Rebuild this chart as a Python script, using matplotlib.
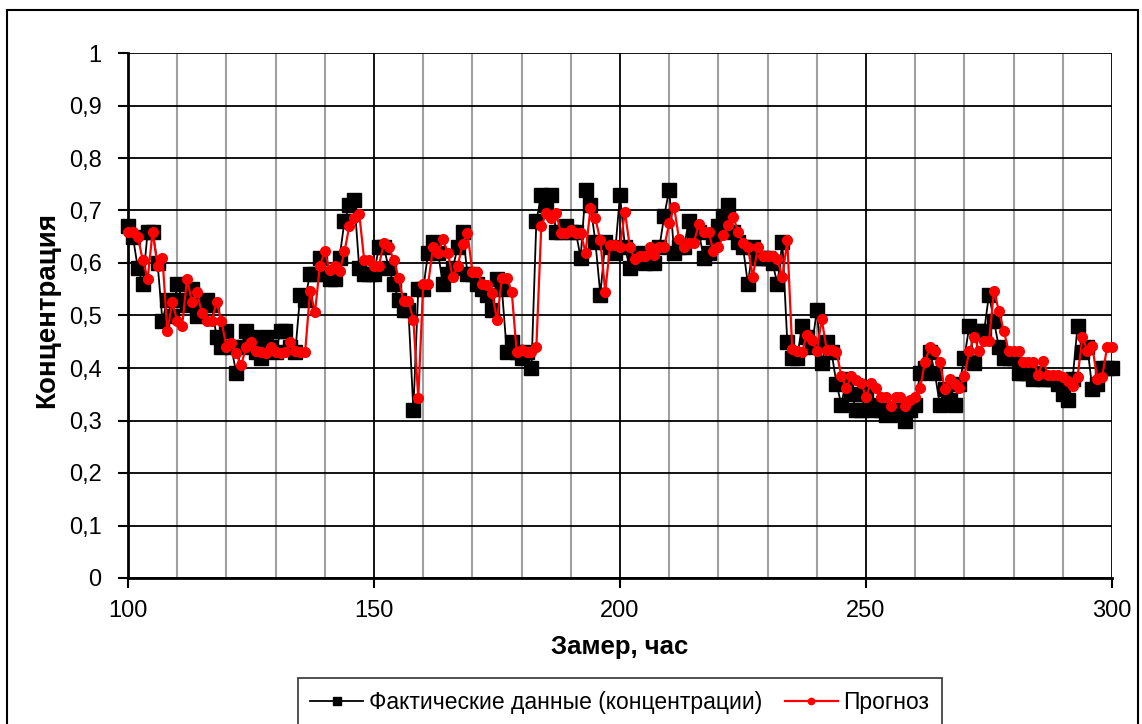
import numpy as np
import matplotlib
matplotlib.use("Agg")
import matplotlib.pyplot as plt
from matplotlib.ticker import MultipleLocator, FuncFormatter
from matplotlib.patches import Rectangle

plt.rcParams['font.family'] = ['Liberation Sans', 'DejaVu Sans']

# hours of measurement (замер, час)
hours = np.arange(100, 301)

# actual concentration, 10 values per row starting at hour 100
actual = [
    .67, .65, .59, .56, .66, .66, .60, .49, .53, .50,
    .56, .53, .52, .55, .50, .52, .53, .52, .46, .44,
    .47, .44, .39, .44, .47, .46, .43, .42, .46, .44,
    .43, .47, .47, .44, .43, .54, .53, .58, .58, .61,
    .58, .57, .57, .61, .68, .71, .72, .59, .58, .58,
    .58, .63, .63, .59, .56, .53, .51, .51, .32, .55,
    .55, .62, .64, .62, .56, .58, .59, .63, .66, .58,
    .58, .56, .55, .54, .51, .57, .55, .43, .45, .43,
    .42, .43, .40, .68, .73, .71, .73, .66, .66, .67,
    .66, .66, .61, .74, .71, .64, .54, .64, .63, .62,
    .73, .63, .59, .61, .62, .60, .61, .60, .63, .69,
    .74, .62, .63, .63, .68, .66, .66, .61, .62, .65,
    .67, .69, .71, .66, .64, .63, .56, .63, .61, .61,
    .61, .60, .56, .64, .45, .42, .42, .48, .46, .44,
    .51, .41, .45, .43, .37, .33, .38, .35, .32, .32,
    .35, .32, .33, .32, .31, .32, .32, .31, .30, .32,
    .33, .39, .40, .43, .39, .33, .36, .34, .33, .37,
    .42, .48, .41, .47, .47, .54, .49, .44, .42, .42,
    .42, .39, .39, .39, .38, .39, .38, .38, .38, .37,
    .35, .34, .38, .48, .43, .44, .36, .37, .40, .40,
    .40,
]

# forecast (прогноз)
forecast = [
    .66, .66, .65, .605, .57, .66, .595, .61, .47, .525,
    .49, .48, .57, .525, .545, .505, .49, .49, .525, .49,
    .44, .447, .428, .405, .44, .45, .433, .43, .428, .44,
    .43, .428, .43, .45, .433, .43, .43, .546, .506, .595,
    .622, .586, .595, .584, .622, .671, .686, .694, .606, .606,
    .595, .595, .638, .63, .606, .572, .527, .527, .492, .343,
    .56, .56, .63, .62, .645, .62, .573, .594, .636, .657,
    .583, .583, .56, .559, .543, .491, .572, .572, .545, .43,
    .434, .43, .43, .44, .67, .696, .685, .696, .657, .657,
    .662, .657, .657, .62, .704, .685, .643, .545, .635, .635,
    .63, .698, .63, .607, .613, .613, .63, .615, .63, .631,
    .676, .707, .645, .63, .638, .638, .674, .66, .66, .622,
    .63, .653, .672, .688, .66, .638, .63, .574, .63, .613,
    .613, .613, .607, .573, .643, .437, .432, .431, .463, .453,
    .432, .493, .435, .435, .431, .384, .362, .384, .378, .372,
    .345, .372, .362, .345, .345, .327, .345, .345, .327, .34,
    .345, .362, .412, .44, .432, .412, .36, .38, .37, .362,
    .385, .432, .46, .432, .451, .451, .547, .509, .471, .432,
    .432, .432, .412, .412, .412, .387, .414, .387, .387, .387,
    .383, .376, .366, .383, .46, .432, .441, .38, .383, .44,
    .44,
]

fig = plt.figure(figsize=(11.42, 7.24), dpi=100)
ax = fig.add_axes([128 / 1142, 146 / 724, 984 / 1142, 525 / 724])

# outer chart frame (bottom edge is off the picture)
fig.patches.append(Rectangle((7 / 1142, -0.05), 1131 / 1142, 1.05 - 10 / 724,
                             transform=fig.transFigure, fill=False,
                             edgecolor='black', linewidth=1.5))

ax.plot(hours, actual, color='black', lw=1.3, marker='s', ms=9.5,
        mec='black', mfc='black', clip_on=False, zorder=3,
        label='Фактические данные (концентрации)')
ax.plot(hours, forecast, color='red', lw=1.6, marker='o', ms=7,
        mec='red', mfc='red', clip_on=False, zorder=4, label='Прогноз')

ax.set_xlim(100, 300)
ax.set_ylim(0, 1)
ax.xaxis.set_major_locator(MultipleLocator(50))
ax.xaxis.set_minor_locator(MultipleLocator(10))
ax.yaxis.set_major_locator(MultipleLocator(0.1))
ax.yaxis.set_major_formatter(FuncFormatter(lambda v, p: ('%g' % round(v, 1)).replace('.', ',')))

ax.grid(which='minor', axis='x', color='#a0a0a0', lw=1.5)
ax.grid(which='major', axis='x', color='black', lw=1.3)
ax.grid(which='major', axis='y', color='black', lw=1.3)
ax.set_axisbelow(True)

for s in ['top', 'right']:
    ax.spines[s].set_visible(False)
for s in ['left', 'bottom']:
    ax.spines[s].set_linewidth(2)

ax.tick_params(which='major', direction='out', length=7, width=1.5, labelsize=17)
ax.tick_params(axis='x', pad=9)
ax.tick_params(axis='y', pad=12)
ax.tick_params(which='minor', length=0)

ax.set_xlabel('Замер, час', fontsize=18.5, fontweight='bold', va='center')
ax.xaxis.set_label_coords(0.5, (578 - 647) / 525)
ax.set_ylabel('Концентрация', fontsize=20, fontweight='bold', va='center')
ax.yaxis.set_label_coords((47 - 128) / 984, 0.51)

leg = fig.legend(loc='upper center', bbox_to_anchor=(620 / 1142, 1 - 678 / 724),
                 ncol=2, frameon=True, fancybox=False, edgecolor='black',
                 fontsize=16.5, markerscale=0.65, handlelength=2.3,
                 handletextpad=0.25, columnspacing=1.0, borderpad=0.55,
                 borderaxespad=0)
leg.get_frame().set_linewidth(1.2)

fig.savefig('out.png', dpi=100)
